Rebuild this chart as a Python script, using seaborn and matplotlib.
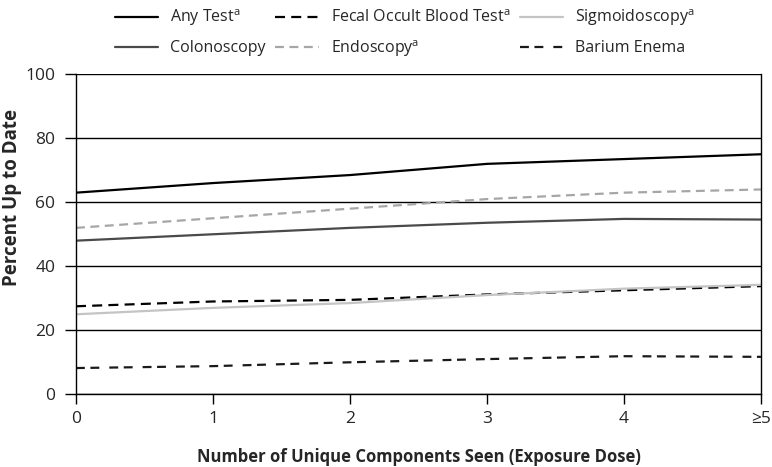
import numpy as np
import pandas as pd
import matplotlib
matplotlib.use('Agg')
import matplotlib.pyplot as plt
import seaborn as sns

# data
doses = [0, 1, 2, 3, 4, 5]
dose_labels = ['0', '1', '2', '3', '4', '\u22655']
any_test = [63, 66, 68.5, 72, 73.5, 75]
colonoscopy = [48, 50, 52, 53.6, 54.8, 54.6]
fobt = [27.5, 29, 29.5, 31.2, 32.5, 33.8]
endoscopy = [52, 55, 58, 61, 63, 64]
sigmoidoscopy = [25, 27, 28.5, 31, 33, 34.2]
barium = [8.2, 8.8, 10, 11, 11.9, 11.7]

series = [
    ('Any Test$^{\\mathregular{a}}$', any_test, '#000000', ''),
    ('Colonoscopy', colonoscopy, '#4a4a4a', ''),
    ('Fecal Occult Blood Test$^{\\mathregular{a}}$', fobt, '#000000', (4.5, 2.8)),
    ('Endoscopy$^{\\mathregular{a}}$', endoscopy, '#a6a6a6', (4, 2.5)),
    ('Sigmoidoscopy$^{\\mathregular{a}}$', sigmoidoscopy, '#c4c4c4', ''),
    ('Barium Enema', barium, '#1a1a1a', (4, 2.5, 4, 4.5)),
]

sns.set_style('white')
plt.rcParams['font.family'] = ['Open Sans', 'DejaVu Sans']
plt.rcParams['mathtext.fontset'] = 'custom'
plt.rcParams['mathtext.rm'] = 'Open Sans'

fig = plt.figure(figsize=(7.72, 4.67), dpi=100)
ax = fig.add_axes([0.0984, 0.1557, 0.8873, 0.6853])

for name, vals, color, dash in series:
    df = pd.DataFrame({'dose': doses, 'pct': vals})
    sns.lineplot(data=df, x='dose', y='pct', ax=ax, color=color, linewidth=1.6, label=name)
    l = ax.get_lines()[-1]
    if dash:
        l.set_dashes(dash)

ax.set_xlim(0, 5)
ax.set_ylim(0, 100)
ax.set_yticks(np.arange(0, 101, 20))
ax.set_xticks(doses)
ax.set_xticklabels(dose_labels)
ax.yaxis.grid(True, color='black', linewidth=1.0)
ax.set_axisbelow(True)
for s in ax.spines.values():
    s.set_visible(True)
    s.set_color('black')
    s.set_linewidth(1.0)
ax.spines['top'].set_visible(False)
ax.tick_params(axis='both', direction='out', width=1.0, color='black',
               labelsize=12.5, bottom=True, left=True)
ax.tick_params(axis='y', length=8, pad=7)
ax.tick_params(axis='x', length=7, pad=5)

ax.set_xlabel('Number of Unique Components Seen (Exposure Dose)', fontsize=12,
              fontweight='bold', labelpad=15)
ax.set_ylabel('Percent Up to Date', fontsize=13.5, fontweight='bold')
ax.yaxis.set_label_coords(-0.079, 0.615)

handles, labels = ax.get_legend_handles_labels()
ax.legend(handles, labels, ncol=3, loc='upper left', bbox_to_anchor=(0.141, 0.997),
          bbox_transform=fig.transFigure, frameon=False, fontsize=11.5,
          handlelength=2.7, handletextpad=0.75, columnspacing=0.6,
          labelspacing=0.75, borderaxespad=0)

fig.savefig('out.png', dpi=100)
